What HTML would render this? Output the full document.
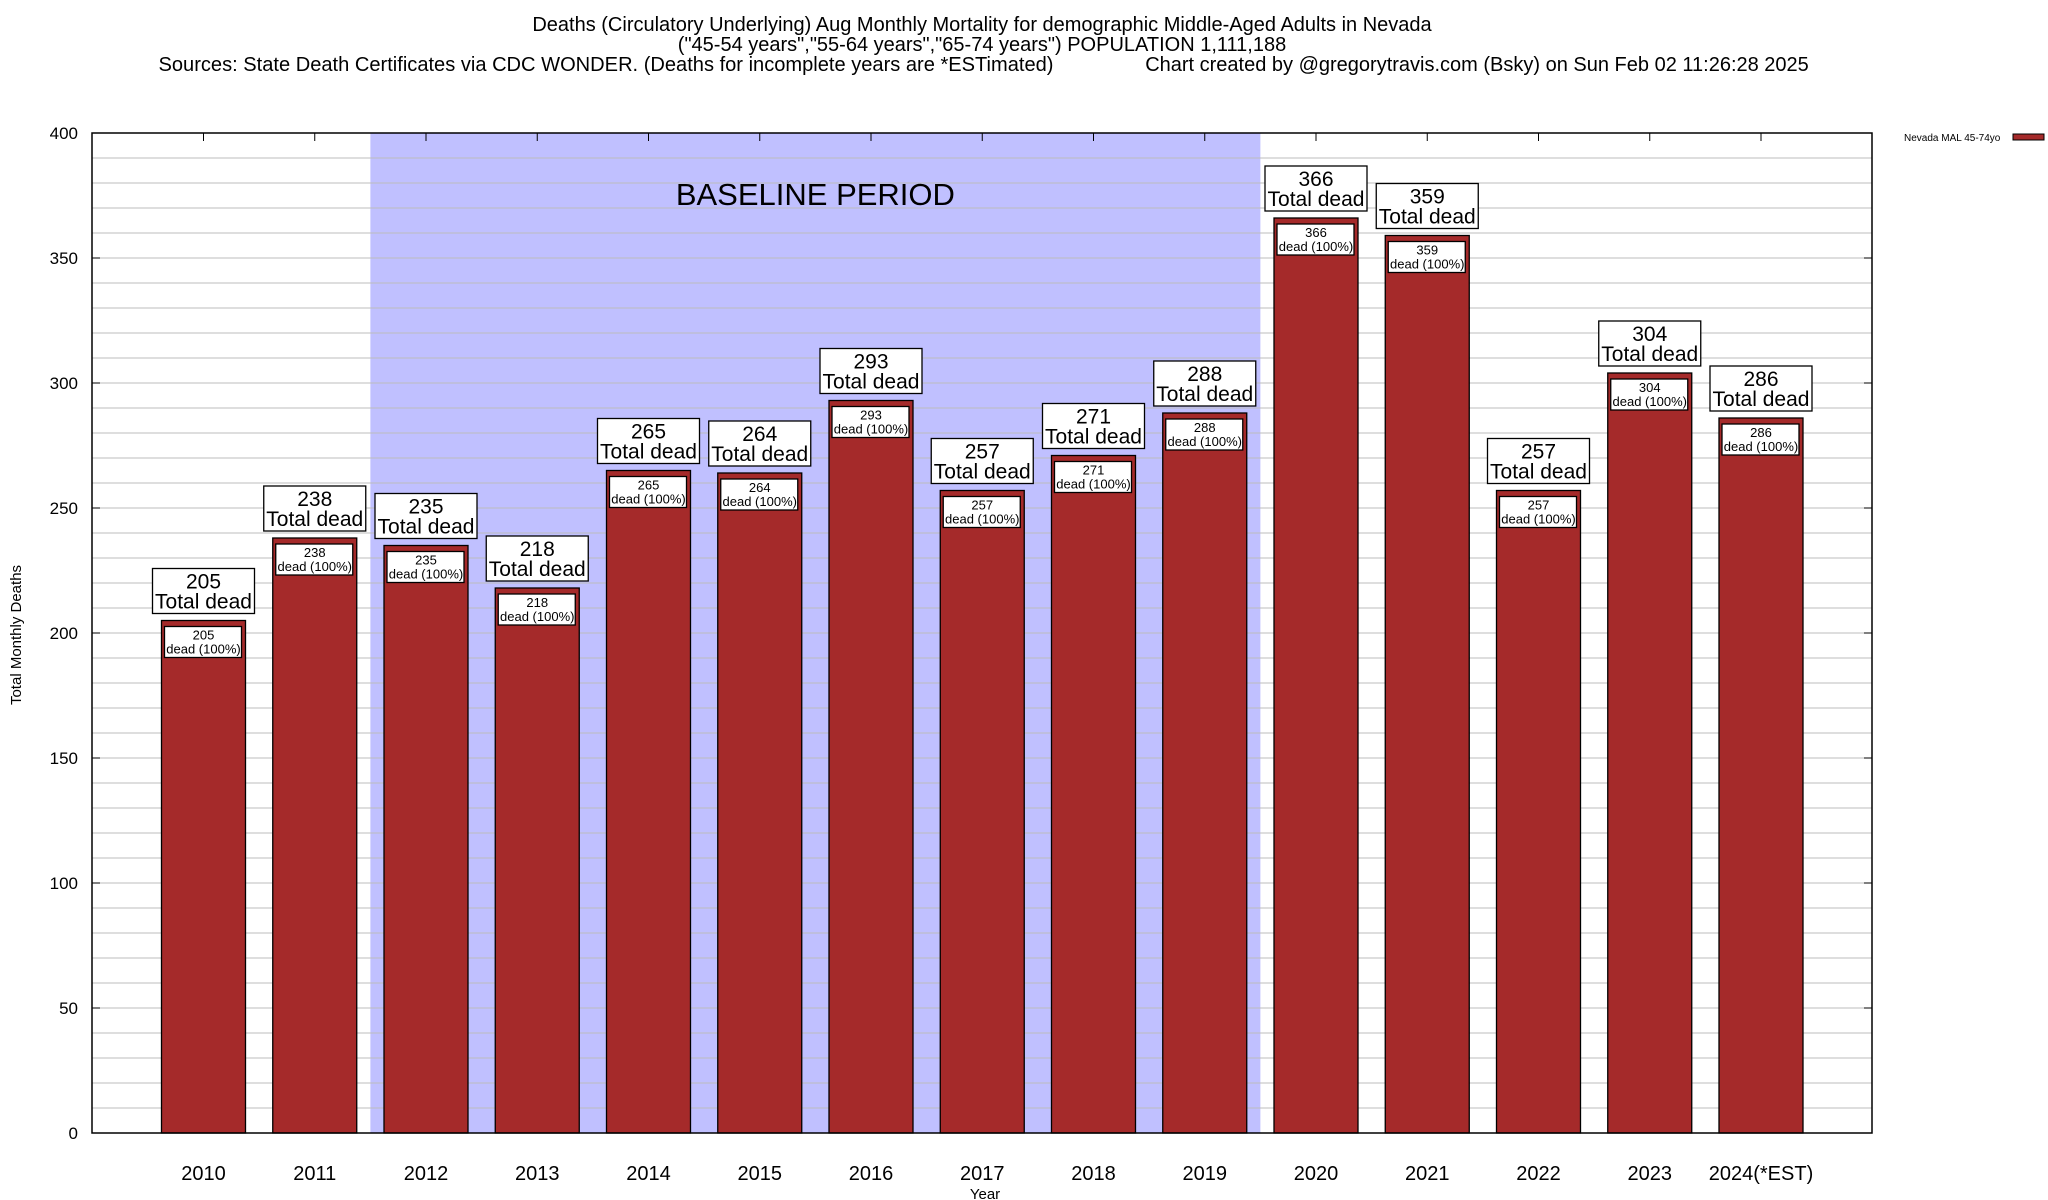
<!DOCTYPE html>
<html><head><meta charset="utf-8"><style>
html,body{margin:0;padding:0;background:#fff}
svg{display:block;font-family:"Liberation Sans",Arial,sans-serif}
</style></head><body>
<svg id="chart" width="2048" height="1200" viewBox="0 0 2048 1200" xmlns="http://www.w3.org/2000/svg">
<g font-size="20" text-anchor="middle" fill="#000">
<text x="982" y="31">Deaths (Circulatory Underlying) Aug Monthly Mortality for demographic Middle-Aged Adults in Nevada</text>
<text x="982" y="51">("45-54 years","55-64 years","65-74 years") POPULATION 1,111,188</text>
<text x="606" y="71" textLength="895" lengthAdjust="spacingAndGlyphs">Sources: State Death Certificates via CDC WONDER. (Deaths for incomplete years are *ESTimated)</text>
<text x="1477" y="71">Chart created by @gregorytravis.com (Bsky) on Sun Feb 02 11:26:28 2025</text>
</g>
<g id="plot"></g>
<text x="0" y="0" font-size="15" text-anchor="middle" transform="translate(21,635) rotate(-90)">Total Monthly Deaths</text>
<text x="985" y="1199" font-size="15" text-anchor="middle">Year</text>
<g>
<text x="1904" y="141" font-size="10">Nevada MAL 45-74yo</text>
<rect x="2013" y="134" width="31" height="6" fill="#a52a2a" stroke="#000" stroke-width="1"/>
</g>
</svg>
<script>
const categories = ["2010","2011","2012","2013","2014","2015","2016","2017","2018","2019","2020","2021","2022","2023","2024(*EST)"];
const values = [205,238,235,218,265,264,293,257,271,288,366,359,257,304,286];
const yTicks = [0,50,100,150,200,250,300,350,400];
const baselineRange = [2012,2019];

const NS = "http://www.w3.org/2000/svg";
const L=92, R=1872, T=133, B=1133;
const yMax=400;
function y(v){return B-(v/yMax)*(B-T);}
const step=111.25, x0=203.5;
function xc(i){return x0+step*i;}
const barW=84;
const g=document.getElementById('plot');
function mk(tag,attrs,parent){const e=document.createElementNS(NS,tag);for(const k in attrs)e.setAttribute(k,attrs[k]);(parent||g).appendChild(e);return e;}

const bi0=categories.indexOf(String(baselineRange[0])), bi1=categories.indexOf(String(baselineRange[1]));
const shade=mk('rect',{x:xc(bi0)-step/2,y:T,width:(bi1-bi0+1)*step,height:B-T,fill:'#c0c0ff'});



for(let v=0;v<=yMax;v+=10){
  const ln=mk('line',{x1:L,x2:R,y1:y(v),y2:y(v),stroke:'#bdbdbd','stroke-width':1});
  
  
}
yTicks.forEach(v=>{
  const t=mk('text',{x:L-14,y:y(v)+6,'font-size':17,'text-anchor':'end'});
  t.textContent=v;
  
  
  mk('line',{x1:L,x2:L+8,y1:y(v),y2:y(v),stroke:'#000'});
  mk('line',{x1:R-8,x2:R,y1:y(v),y2:y(v),stroke:'#000'});
});

const bl=mk('text',{x:(xc(bi0)+xc(bi1))/2,y:205,'font-size':31,'text-anchor':'middle'});
bl.textContent='BASELINE PERIOD';



categories.forEach((c,i)=>{
  const v=values[i], cx=xc(i), top=y(v);
  const bar=mk('rect',{x:cx-barW/2,y:top,width:barW,height:B-top,fill:'#a52a2a',stroke:'#000','stroke-width':1.3});
  
  
  const ib=mk('rect',{x:cx-barW/2+3,y:top+6,width:barW-7,height:31,fill:'#fff',stroke:'#000','stroke-width':1.3});
  
  
  const t1=mk('text',{x:cx,y:top+19,'font-size':13,'text-anchor':'middle'});t1.textContent=v;
  
  
  const t2=mk('text',{x:cx,y:top+33,'font-size':13,'text-anchor':'middle'});t2.textContent='dead (100%)';
  
  
  const ob=mk('rect',{x:cx-51,y:top-52,width:102,height:45,fill:'#fff',stroke:'#000','stroke-width':1.3});
  
  
  const o1=mk('text',{x:cx,y:top-32,'font-size':21,'text-anchor':'middle'});o1.textContent=v;
  
  
  const o2=mk('text',{x:cx,y:top-12,'font-size':21,'text-anchor':'middle'});o2.textContent='Total dead';
  
  
  mk('line',{x1:cx,x2:cx,y1:T,y2:T+8,stroke:'#000'});
  const xl=mk('text',{x:cx,y:1180,'font-size':20,'text-anchor':'middle'});xl.textContent=c;
  
  
});

const frame=mk('rect',{x:L,y:T,width:R-L,height:B-T,fill:'none',stroke:'#000','stroke-width':1.5});


</script>
</body></html>
